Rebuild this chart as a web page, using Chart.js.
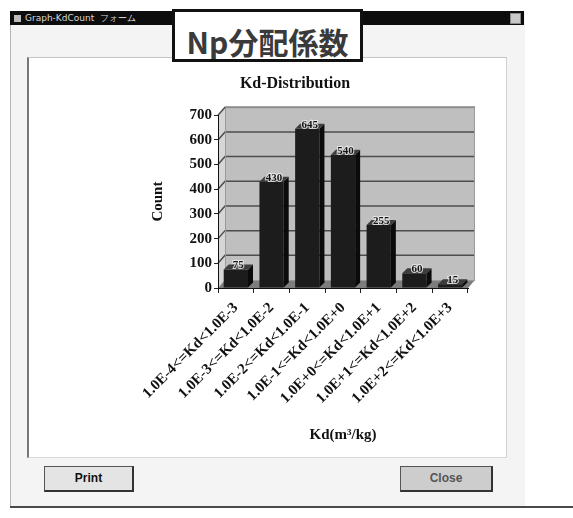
<!DOCTYPE html>
<html>
<head>
<meta charset="utf-8">
<script src="https://cdn.jsdelivr.net/npm/chart.js@4/dist/chart.umd.min.js"></script>
<style>
  html, body { margin: 0; padding: 0; width: 573px; height: 518px; overflow: hidden; background: #ffffff; }
  #win { position: absolute; left: 10px; top: 12px; width: 514px; height: 495px; background: #f4f4f4; border-left: 1px solid #b5b5b5; }
  #titlebar { position: absolute; left: 10px; top: 11px; width: 514px; height: 14px; background: #0d0d0d; color: #d8d8d8;
              font: 9px "DejaVu Sans", sans-serif; line-height: 14px; white-space: nowrap; }
  #titlebar .ico { display: inline-block; width: 7px; height: 7px; background: #bbb; margin: 0 4px 0 4px; vertical-align: -1px; }
  #titlebar .x { position: absolute; right: 3px; top: 2px; width: 9px; height: 9px; background: #c8c8c8; border: 1px solid #888; }
  #bottomline { position: absolute; left: 10px; top: 506px; width: 563px; height: 2px; background: #4a4a4a; }
  #frame { position: absolute; left: 27px; top: 57px; width: 477px; height: 399px; background: #ffffff;
           border-top: 1px solid #c4c4c4; border-right: 1px solid #d0d0d0; border-bottom: 1px solid #d8d8d8; border-left: 2px solid #777; }
  #chartbox { position: absolute; left: 0; top: 0; }
  #npbox { position: absolute; left: 172px; top: 9px; width: 185px; height: 47px; background: #ffffff; border: 3px solid #111;
           font: bold 30px "Noto Sans CJK JP", sans-serif; color: #3a3a3a; text-align: center; line-height: 58px; overflow: hidden; }
  .btn { position: absolute; top: 466px; height: 23px; border: 1px solid #555; border-right: 2px solid #333; border-bottom: 2px solid #333;
         font: bold 12px "Liberation Sans Narrow", "Liberation Sans", sans-serif; text-align: center; line-height: 23px; }
  #print { left: 44px; width: 87px; background: #e4e4e4; color: #111; }
  #close { left: 400px; width: 90px; background: #cdcdcd; color: #555; }
</style>
</head>
<body>
<div id="win"></div>
<div id="titlebar"><span class="ico"></span>Graph-KdCount&nbsp;&nbsp;フォーム<span class="x"></span></div>
<div id="frame"></div>
<div id="bottomline"></div>
<canvas id="chartbox" width="573" height="518"></canvas>
<div id="npbox">Np分配係数</div>
<div class="btn" id="print">Print</div>
<div class="btn" id="close">Close</div>

<script>
// Kd ranges (m3/kg) and number of samples in each range
const categories = [
  '1.0E-4<=Kd<1.0E-3',
  '1.0E-3<=Kd<1.0E-2',
  '1.0E-2<=Kd<1.0E-1',
  '1.0E-1<=Kd<1.0E+0',
  '1.0E+0<=Kd<1.0E+1',
  '1.0E+1<=Kd<1.0E+2',
  '1.0E+2<=Kd<1.0E+3'
];
const counts = [75, 430, 645, 540, 255, 60, 15];
const countTicks = [0, 100, 200, 300, 400, 500, 600, 700];

const SERIF = '"Liberation Serif", "Times New Roman", serif';
const DEPTH = { dx: 7, dy: -8 };      // wall / floor depth
const BAR_DEPTH = { dx: 5, dy: -5 };  // column depth

// Back wall, side wall, floor and gridlines drawn behind the axes
const walls = {
  id: 'walls',
  beforeDraw(chart) {
    const { ctx, chartArea: a } = chart;
    const y = chart.scales.y;
    const { dx, dy } = DEPTH;
    ctx.save();
    // side wall
    ctx.fillStyle = '#d6d6d6';
    ctx.beginPath();
    ctx.moveTo(a.left, a.bottom); ctx.lineTo(a.left, a.top);
    ctx.lineTo(a.left + dx, a.top + dy); ctx.lineTo(a.left + dx, a.bottom + dy);
    ctx.closePath(); ctx.fill();
    // back wall
    ctx.fillStyle = '#bfbfbf';
    ctx.fillRect(a.left + dx, a.top + dy, a.right - a.left, a.bottom - a.top);
    // floor
    ctx.fillStyle = '#7d7d7d';
    ctx.beginPath();
    ctx.moveTo(a.left, a.bottom); ctx.lineTo(a.right, a.bottom);
    ctx.lineTo(a.right + dx, a.bottom + dy); ctx.lineTo(a.left + dx, a.bottom + dy);
    ctx.closePath(); ctx.fill();
    // gridlines
    ctx.strokeStyle = '#4d4d4d';
    ctx.lineWidth = 1.5;
    countTicks.forEach(v => {
      if (v === 0) return;
      const py = y.getPixelForValue(v);
      ctx.beginPath();
      ctx.moveTo(a.left, py);
      ctx.lineTo(a.left + dx, py + dy);
      ctx.lineTo(a.right + dx, py + dy);
      ctx.stroke();
    });
    // wall outline
    ctx.strokeStyle = '#9a9a9a';
    ctx.lineWidth = 1;
    ctx.strokeRect(a.left + dx + 0.5, a.top + dy + 0.5, a.right - a.left - 1, a.bottom - a.top);
    ctx.restore();
  }
};

// Top and side faces of the columns plus their value labels
const columns3d = {
  id: 'columns3d',
  afterDatasetsDraw(chart) {
    const { ctx } = chart;
    const meta = chart.getDatasetMeta(0);
    const { dx, dy } = BAR_DEPTH;
    ctx.save();
    meta.data.forEach((bar, i) => {
      const { x, y, base, width } = bar.getProps(['x', 'y', 'base', 'width'], true);
      const l = x - width / 2, r = x + width / 2;
      ctx.fillStyle = '#0b0b0b';
      ctx.beginPath();
      ctx.moveTo(r, y); ctx.lineTo(r + dx, y + dy); ctx.lineTo(r + dx, base + dy); ctx.lineTo(r, base);
      ctx.closePath(); ctx.fill();
      ctx.fillStyle = '#3d3d3d';
      ctx.beginPath();
      ctx.moveTo(l, y); ctx.lineTo(r, y); ctx.lineTo(r + dx, y + dy); ctx.lineTo(l + dx, y + dy);
      ctx.closePath(); ctx.fill();

      const label = String(counts[i]);
      ctx.font = 'bold 11px ' + SERIF;
      ctx.textAlign = 'center';
      ctx.textBaseline = 'middle';
      ctx.lineWidth = 2;
      ctx.strokeStyle = 'rgba(235,235,235,0.85)';
      ctx.strokeText(label, x + dx / 2, y + dy + 1);
      ctx.fillStyle = '#151515';
      ctx.fillText(label, x + dx / 2, y + dy + 1);
    });
    ctx.restore();
  }
};

new Chart(document.getElementById('chartbox'), {
  type: 'bar',
  data: {
    labels: categories,
    datasets: [{
      data: counts,
      backgroundColor: '#1c1c1c',
      borderWidth: 0,
      barPercentage: 0.68,
      categoryPercentage: 1.0
    }]
  },
  options: {
    responsive: false,
    animation: false,
    events: [],
    layout: { padding: { top: 74, left: 122, right: 105, bottom: 70 } },
    plugins: {
      legend: { display: false },
      tooltip: { enabled: false },
      title: {
        display: true,
        text: 'Kd-Distribution',
        color: '#111',
        font: { family: SERIF, size: 16, weight: 'bold' },
        padding: { top: 0, bottom: 22 }
      }
    },
    scales: {
      x: {
        grid: { drawOnChartArea: false, drawTicks: true, tickLength: 5, color: '#222' },
        border: { display: true, color: '#111', width: 1 },
        ticks: {
          autoSkip: false, minRotation: 45, maxRotation: 45, padding: 6,
          color: '#111', font: { family: SERIF, size: 15, weight: 'bold' }
        },
        title: {
          display: true, text: 'Kd(m³/kg)', color: '#111',
          font: { family: SERIF, size: 15, weight: 'bold' },
          padding: { top: 4, bottom: 4 }
        },
        afterFit(scale) { scale.height = 160; }
      },
      y: {
        min: 0, max: 700,
        afterBuildTicks(scale) { scale.ticks = countTicks.map(v => ({ value: v })); },
        grid: { drawOnChartArea: false, drawTicks: true, tickLength: 4, color: '#222' },
        border: { display: true, color: '#111', width: 1 },
        ticks: { padding: 2, color: '#111', font: { family: SERIF, size: 15, weight: 'bold' } },
        title: {
          display: true, text: 'Count', color: '#111',
          font: { family: SERIF, size: 15, weight: 'bold' },
          padding: { top: 27, bottom: 0 }
        },
        afterFit(scale) { scale.width = 96; }
      }
    }
  },
  plugins: [walls, columns3d]
});
</script>
</body>
</html>
